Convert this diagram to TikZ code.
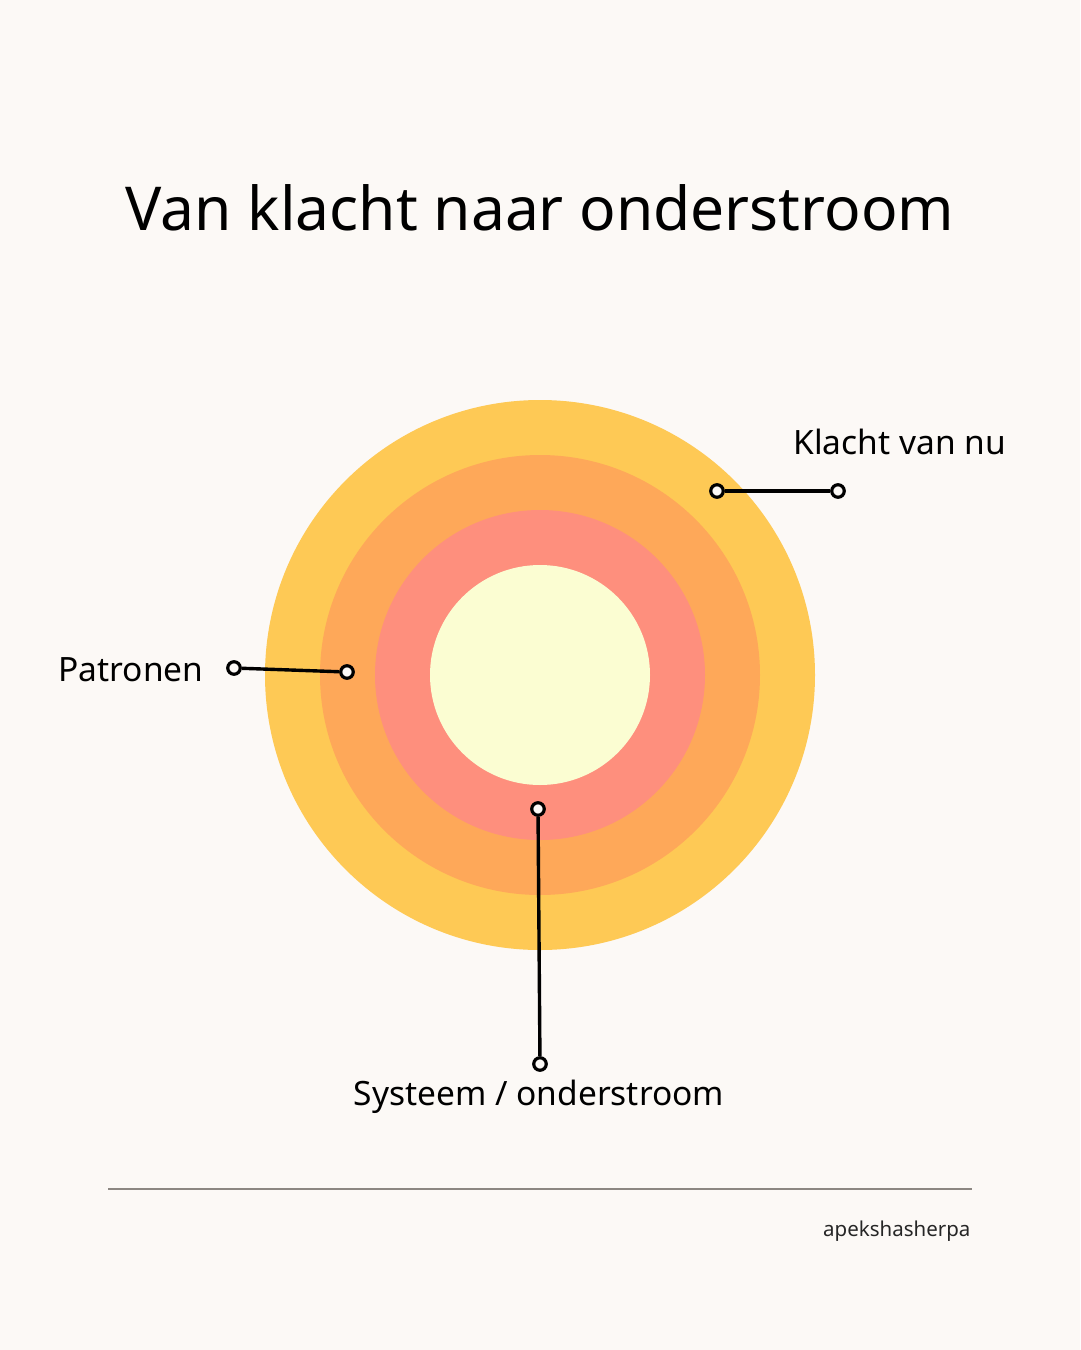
\documentclass[tikz,border=0pt]{standalone}
\usepackage{fontspec}
\setmainfont{Noto Sans}
\definecolor{paper}{HTML}{FCF9F6}
\definecolor{ringA}{HTML}{FEC955}
\definecolor{ringB}{HTML}{FEA859}
\definecolor{ringC}{HTML}{FE8F7D}
\definecolor{ringD}{HTML}{FBFDD2}
\definecolor{rule}{HTML}{8C8782}

\begin{document}
\begin{tikzpicture}[x=1pt,y=-1pt,
  pin/.style={circle,draw=black,fill=paper,line width=3.2pt,minimum size=12.5pt,inner sep=0pt},
  lead/.style={line width=3.4pt},
  label/.style={font=\fontsize{33.5}{40}\selectfont,anchor=base}]
\fill[paper] (0,0) rectangle (1080,1350);

% title
\node[anchor=base,font=\fontsize{60.5}{72}\selectfont] (title) at (540,230) {Van klacht naar onderstroom};

% rings
\fill[ringA] (540,675) circle (275);
\fill[ringB] (540,675) circle (220);
\fill[ringC] (540,675) circle (165);
\fill[ringD] (540,675) circle (110);

% pins
\node[pin] (k1) at (717,491) {};
\node[pin] (k2) at (838,491) {};
\node[pin] (p1) at (234,668) {};
\node[pin] (p2) at (347,672) {};
\node[pin] (s1) at (538,809) {};
\node[pin] (s2) at (540,1064) {};
\draw[lead] (k1) -- (k2);
\draw[lead] (p1) -- (p2);
\draw[lead] (s1) -- (s2);

% labels
\node[label,anchor=base west] (klacht) at (790,454) {Klacht van nu};
\node[label,anchor=base east] (patronen) at (207,681) {Patronen};
\node[label] (systeem) at (539,1105) {Systeem / onderstroom};

% footer
\draw[rule,line width=1.6pt] (108,1189) -- (972,1189);
\node[anchor=base east,font=\fontsize{20.5}{24}\selectfont,text=black!85] (sign) at (974,1236) {apekshasherpa};
\end{tikzpicture}
\end{document}
